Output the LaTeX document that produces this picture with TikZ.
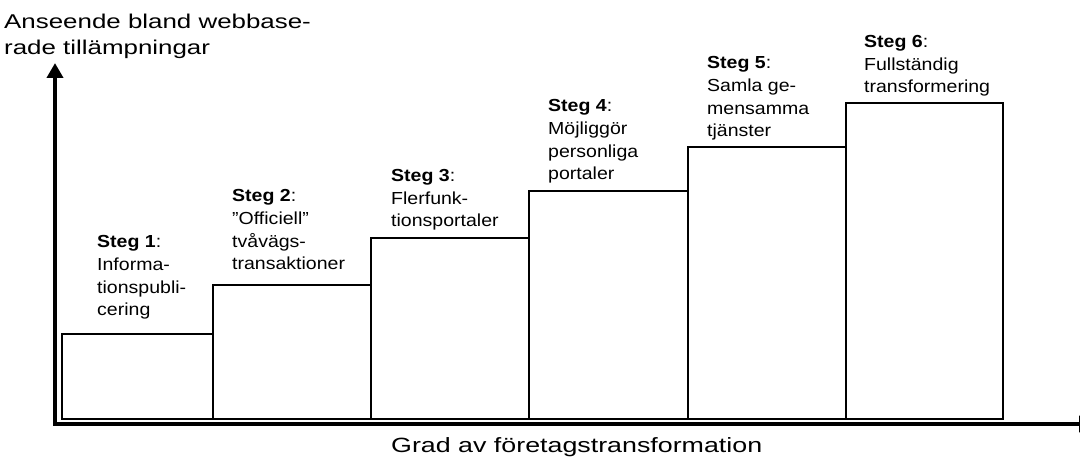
\documentclass[tikz,border=0pt]{standalone}
\usepackage{fontspec}
\setmainfont{Liberation Sans}
\newfontfamily\stepfont[FakeStretch=1.12]{Liberation Sans}
\newfontfamily\axfont[FakeStretch=1.3]{Liberation Sans}
\usetikzlibrary{arrows.meta}
\begin{document}
\begin{tikzpicture}[x=1bp,y=-1bp,
  box/.style={draw,line width=1.5bp},
  lbl/.style={anchor=base west,inner sep=0,align=left,font=\stepfont\fontsize{17.5}{22.8}\selectfont},
  axlbl/.style={anchor=base west,inner sep=0,align=left,font=\axfont\fontsize{20}{27}\selectfont},
  axis/.style={line width=4bp,-{Triangle[width=16bp,length=15bp]}}]
\clip (0,0) rectangle (1080,459);
% boxes
\draw[box] (62,419) rectangle (213,334);
\draw[box] (213,419) rectangle (371,285);
\draw[box] (371,419) rectangle (529,238);
\draw[box] (529,419) rectangle (688,191);
\draw[box] (688,419) rectangle (846,147);
\draw[box] (846,419) rectangle (1003,103);
% axes
\coordinate (O) at (55,424);
\coordinate (ytop) at (55,63);
\coordinate (xend) at (1094,424);
\draw[axis] ([yshift=-2bp]O) -- (ytop);
\draw[axis] ([xshift=-2bp]O) -- (xend);
% labels (anchored at the baseline of the last line)
\node[lbl] (s1) at (97,316) {\textbf{Steg 1}:\\Informa-\\tionspubli-\\cering};
\node[lbl] (s2) at (232,270) {\textbf{Steg 2}:\\”Officiell”\\tvåvägs-\\transaktioner};
\node[lbl] (s3) at (391,227) {\textbf{Steg 3}:\\Flerfunk-\\tionsportaler};
\node[lbl] (s4) at (548,180) {\textbf{Steg 4}:\\Möjliggör\\personliga\\portaler};
\node[lbl] (s5) at (707,137) {\textbf{Steg 5}:\\Samla ge-\\mensamma\\tjänster};
\node[lbl] (s6) at (864,93) {\textbf{Steg 6}:\\Fullständig\\transformering};
\node[axlbl] (ylab) at (4,55) {Anseende bland webbase-\\rade tillämpningar};
\node[axlbl,font=\axfont\fontsize{20.7}{27}\selectfont] (xlab) at (391,452) {Grad av företagstransformation};
\end{tikzpicture}
\end{document}
